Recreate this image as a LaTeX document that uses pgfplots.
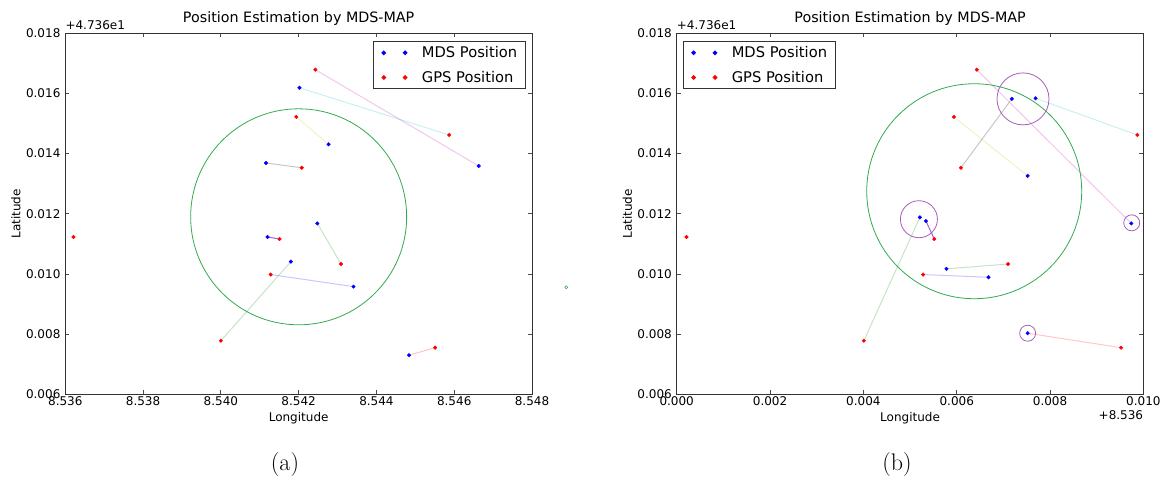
\documentclass[border=0pt]{standalone}
\usepackage{fontspec}
\newfontfamily\dejavu{DejaVu Sans}
\usepackage{pgfplots}
\pgfplotsset{compat=1.18}

\definecolor{mdsblue}{RGB}{0,0,255}
\definecolor{gpsred}{RGB}{255,0,0}
\definecolor{lineg}{RGB}{0,128,0}
\definecolor{linec}{RGB}{0,191,191}
\definecolor{linem}{RGB}{191,0,191}
\definecolor{liney}{RGB}{191,191,0}
\definecolor{lineviolet}{RGB}{140,60,200}
\definecolor{circgreen}{RGB}{50,170,80}
\definecolor{circpurple}{RGB}{165,95,185}

\pgfplotsset{
  mdsmap/.style={
    scale only axis, width=466.7pt, height=361pt,
    anchor=south west, clip=false,
    ymin=0.006, ymax=0.018,
    ytick={0.006,0.008,0.010,0.012,0.014,0.016,0.018},
    scaled x ticks=false, scaled y ticks=false,
    /pgf/number format/assume math mode=true,
    xticklabel style={/pgf/number format/fixed, /pgf/number format/fixed zerofill,
      /pgf/number format/precision=3, font=\fontsize{12}{14}\dejavu,
      inner sep=0pt, anchor=north, yshift=-2.4pt},
    yticklabel style={/pgf/number format/fixed, /pgf/number format/fixed zerofill,
      /pgf/number format/precision=3, font=\fontsize{12}{14}\dejavu,
      inner sep=0pt, anchor=east, xshift=-4.7pt},
    axis line style={black!80, line width=1pt},
    tick style={black!70, line width=0.8pt},
    major tick length=4pt, tick align=inside,
    title={Position Estimation by MDS-MAP},
    every axis title/.style={at={(axis description cs:0.5,1.0299)}, anchor=base,
      inner sep=0pt, font=\fontsize{14.3}{17}\dejavu},
    xlabel={Longitude}, ylabel={Latitude},
    every axis x label/.style={at={(axis description cs:0.5,-0.0748)}, anchor=base,
      inner sep=0pt, font=\fontsize{12}{14}\dejavu},
    every axis y label/.style={at={(axis description cs:-0.096,0.5)}, rotate=90,
      anchor=base, inner sep=0pt, font=\fontsize{12}{14}\dejavu},
    legend style={draw=black!80, line width=1pt, fill=white,
      inner xsep=8pt, inner ysep=5pt, row sep=12pt,
      font=\fontsize{14.7}{17}\dejavu, nodes={inner sep=0pt},
      /tikz/every odd column/.append style={column sep=15pt}},
    legend cell align=left,
    legend image code/.code={\draw[#1] plot coordinates {(0pt,0pt) (21.4pt,0pt)};},
    pair/.style={line width=1pt, draw opacity=0.22, forget plot},
    pts/.style={only marks, mark=*, mark size=1.8pt},
  }
}

\begin{document}
\begin{tikzpicture}[x=1pt,y=1pt]
\useasboundingbox (0,0) rectangle (1165,479);

% (a)
\begin{axis}[mdsmap, at={(65.3pt,84.7pt)},
  xmin=8.536, xmax=8.548,
  xtick={8.536,8.538,8.540,8.542,8.544,8.546,8.548},
  legend style={at={(axis description cs:1,1)}, anchor=north east,
    xshift=-6.3pt, yshift=-7.7pt}]
\addplot[pair, mdsblue] coordinates {(8.54128,0.00998) (8.54341,0.00958)};
\addplot[pair, lineg] coordinates {(8.54248,0.01168) (8.54309,0.01033)};
\addplot[pair, gpsred] coordinates {(8.54484,0.00730) (8.54551,0.00755)};
\addplot[pair, linec] coordinates {(8.54202,0.01619) (8.54587,0.01462)};
\addplot[pair, linem] coordinates {(8.54243,0.01679) (8.54663,0.01359)};
\addplot[pair, liney] coordinates {(8.54194,0.01522) (8.54277,0.01431)};
\addplot[pair, black] coordinates {(8.54116,0.01369) (8.54208,0.01353)};
\addplot[pair, lineviolet, draw opacity=0.8] coordinates {(8.54120,0.01123) (8.54151,0.01116)};
\addplot[pair, lineg] coordinates {(8.54180,0.01041) (8.54000,0.00778)};
\addplot[forget plot, only marks, mark=o, mark size=108pt, circgreen,
  mark options={line width=0.8pt}] coordinates {(8.54200,0.01190)};
\addplot[forget plot, only marks, mark=o, mark size=1.5pt, circgreen,
  mark options={line width=0.6pt}] coordinates {(8.54888,0.00956)};
\addplot[pts, mdsblue] coordinates {
  (8.54202,0.01619) (8.54277,0.01431) (8.54116,0.01369) (8.54663,0.01359)
  (8.54248,0.01168) (8.54120,0.01123) (8.54180,0.01041) (8.54341,0.00958)
  (8.54484,0.00730)};
\addlegendentry{MDS Position}
\addplot[pts, gpsred] coordinates {
  (8.54243,0.01679) (8.54194,0.01522) (8.54587,0.01462) (8.54208,0.01353)
  (8.53621,0.01123) (8.54151,0.01116) (8.54309,0.01033) (8.54128,0.00998)
  (8.54000,0.00778) (8.54551,0.00755)};
\addlegendentry{GPS Position}
\end{axis}

% (b)
\begin{axis}[mdsmap, at={(676.7pt,84.7pt)},
  xmin=0, xmax=0.010,
  xtick={0.000,0.002,0.004,0.006,0.008,0.010},
  legend style={at={(axis description cs:0,1)}, anchor=north west,
    xshift=6.6pt, yshift=-7.7pt}]
\addplot[pair, linem] coordinates {(0.00643,0.01679) (0.00974,0.01168)};
\addplot[pair, linec] coordinates {(0.00769,0.01584) (0.00987,0.01462)};
\addplot[pair, liney] coordinates {(0.00594,0.01522) (0.00752,0.01326)};
\addplot[pair, black] coordinates {(0.00718,0.01582) (0.00609,0.01353)};
\addplot[pair, lineg] coordinates {(0.00521,0.01188) (0.00401,0.00778)};
\addplot[pair, lineviolet, draw opacity=0.8] coordinates {(0.00534,0.01176) (0.00552,0.01116)};
\addplot[pair, lineg] coordinates {(0.00578,0.01017) (0.00710,0.01033)};
\addplot[pair, mdsblue] coordinates {(0.00528,0.00998) (0.00668,0.00989)};
\addplot[pair, gpsred] coordinates {(0.00752,0.00803) (0.00952,0.00755)};
\addplot[forget plot, only marks, mark=o, mark size=107.5pt, circgreen,
  mark options={line width=0.8pt}] coordinates {(0.006375,0.01275)};
\addplot[forget plot, only marks, mark=o, circpurple,
  mark options={line width=0.8pt}, mark size=26pt] coordinates {(0.00742,0.01582)};
\addplot[forget plot, only marks, mark=o, circpurple,
  mark options={line width=0.8pt}, mark size=18.5pt] coordinates {(0.00519,0.01182)};
\addplot[forget plot, only marks, mark=o, circpurple,
  mark options={line width=0.8pt}, mark size=8pt] coordinates {(0.00975,0.01170)};
\addplot[forget plot, only marks, mark=o, circpurple,
  mark options={line width=0.8pt}, mark size=8pt] coordinates {(0.00752,0.00803)};
\addplot[pts, mdsblue] coordinates {
  (0.00718,0.01582) (0.00769,0.01584) (0.00752,0.01326) (0.00521,0.01188)
  (0.00534,0.01176) (0.00974,0.01168) (0.00578,0.01017) (0.00668,0.00989)
  (0.00752,0.00803)};
\addlegendentry{MDS Position}
\addplot[pts, gpsred] coordinates {
  (0.00643,0.01679) (0.00594,0.01522) (0.00987,0.01462) (0.00609,0.01353)
  (0.00021,0.01123) (0.00552,0.01116) (0.00710,0.01033) (0.00528,0.00998)
  (0.00401,0.00778) (0.00952,0.00755)};
\addlegendentry{GPS Position}
\end{axis}

% offset texts and sub-captions
\node[anchor=base west, inner sep=0pt, font=\fontsize{12}{14}\dejavu] at (65.3,449) {+4.736e1};
\node[anchor=base west, inner sep=0pt, font=\fontsize{12}{14}\dejavu] at (676.7,449) {+4.736e1};
\node[anchor=base east, inner sep=0pt, font=\fontsize{12}{14}\dejavu] at (1143.3,59.7) {+8.536};
\node[anchor=base, inner sep=0pt, font=\fontsize{24}{28}\selectfont] at (285,8) {(a)};
\node[anchor=base, inner sep=0pt, font=\fontsize{24}{28}\selectfont] at (897,8) {(b)};
\end{tikzpicture}
\end{document}
